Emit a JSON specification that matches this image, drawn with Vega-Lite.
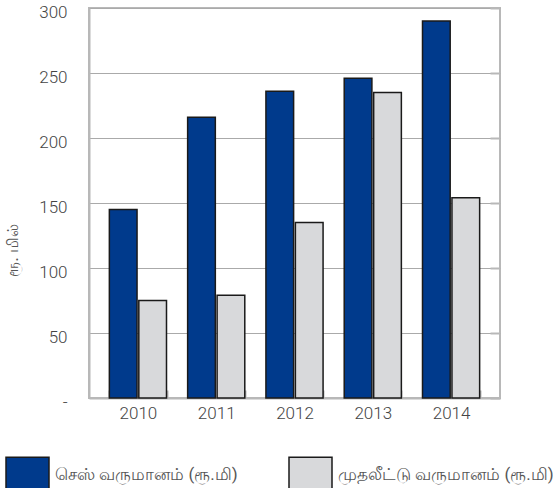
{
  "$schema": "https://vega.github.io/schema/vega-lite/v6.json",
  "width": 411,
  "height": 390,
  "autosize": "none",
  "padding": {"left": 89, "top": 8, "right": 53, "bottom": 90},
  "background": "white",
  "config": {
    "font": "Roboto",
    "view": {"stroke": "#b8b8b8", "strokeWidth": 2}
  },
  "data": {
    "values": [
      {"year": "2010", "series": "செஸ் வருமானம் (ரூ.மி)", "value": 145},
      {"year": "2010", "series": "முதலீட்டு வருமானம் (ரூ.மி)", "value": 75},
      {"year": "2011", "series": "செஸ் வருமானம் (ரூ.மி)", "value": 216},
      {"year": "2011", "series": "முதலீட்டு வருமானம் (ரூ.மி)", "value": 79},
      {"year": "2012", "series": "செஸ் வருமானம் (ரூ.மி)", "value": 236},
      {"year": "2012", "series": "முதலீட்டு வருமானம் (ரூ.மி)", "value": 135},
      {"year": "2013", "series": "செஸ் வருமானம் (ரூ.மி)", "value": 246},
      {"year": "2013", "series": "முதலீட்டு வருமானம் (ரூ.மி)", "value": 235},
      {"year": "2014", "series": "செஸ் வருமானம் (ரூ.மி)", "value": 290},
      {"year": "2014", "series": "முதலீட்டு வருமானம் (ரூ.மி)", "value": 154}
    ]
  },
  "encoding": {
    "x": {
      "field": "year",
      "type": "nominal",
      "scale": {"paddingInner": 0.27, "paddingOuter": 0.26},
      "axis": {
        "title": null,
        "labelAngle": 0,
        "labelFontSize": 17,
        "labelFontWeight": 300,
        "labelColor": "#444",
        "labelPadding": 15,
        "domainColor": "#b8b8b8",
        "domainWidth": 2,
        "tickBand": "extent",
        "tickSize": -8,
        "tickColor": "#b8b8b8",
        "tickWidth": 2,
        "grid": false
      }
    },
    "xOffset": {
      "field": "series",
      "type": "nominal",
      "scale": {"paddingInner": 0.06}
    }
  },
  "layer": [
    {
      "mark": {"type": "bar", "stroke": "#1a1a1a", "strokeWidth": 1.5},
      "encoding": {
        "y": {
          "field": "value",
          "type": "quantitative",
          "scale": {"domain": [0, 300], "nice": false},
          "axis": {
            "title": "ரூ. மில்",
            "titleFontSize": 16,
            "titleFontWeight": "normal",
            "titleColor": "#555",
            "titleX": -69,
            "titleY": 242,
            "values": [0, 50, 100, 150, 200, 250, 300],
            "labelExpr": "datum.value == 0 ? '-' : datum.label",
            "labelFontSize": 17,
            "labelFontWeight": 300,
            "labelColor": "#444",
            "labelPadding": 22,
            "labelOffset": 4,
            "labelBound": false,
            "labelFlush": false,
            "tickSize": 0,
            "domainColor": "#b8b8b8",
            "domainWidth": 2,
            "grid": true,
            "gridColor": "#aaaaaa",
            "gridWidth": 1
          }
        },
        "color": {
          "field": "series",
          "type": "nominal",
          "scale": {
            "domain": ["செஸ் வருமானம் (ரூ.மி)", "முதலீட்டு வருமானம் (ரூ.மி)"],
            "range": ["#003a8c", "#d8d9db"]
          },
          "legend": {
            "title": null,
            "orient": "none",
            "direction": "horizontal",
            "legendX": -84,
            "legendY": 444,
            "symbolType": "M-1,-0.81H1V0.81H-1Z",
            "symbolSize": 1849,
            "symbolStrokeColor": "#1a1a1a",
            "symbolStrokeWidth": 1.5,
            "symbolOpacity": 1,
            "labelFontSize": 17,
            "labelColor": "#555",
            "labelOffset": 5,
            "labelLimit": 300,
            "columnPadding": 48
          }
        }
      }
    },
    {
      "mark": {"type": "bar", "opacity": 0},
      "encoding": {
        "y": {
          "field": "value",
          "type": "quantitative",
          "scale": {"domain": [0, 300], "nice": false},
          "axis": {
            "orient": "right",
            "title": null,
            "labels": false,
            "values": [0, 50, 100, 150, 200, 250, 300],
            "tickSize": -10,
            "tickColor": "#b8b8b8",
            "tickWidth": 2,
            "domain": false,
            "grid": false
          }
        }
      }
    }
  ],
  "resolve": {"axis": {"y": "independent"}}
}
